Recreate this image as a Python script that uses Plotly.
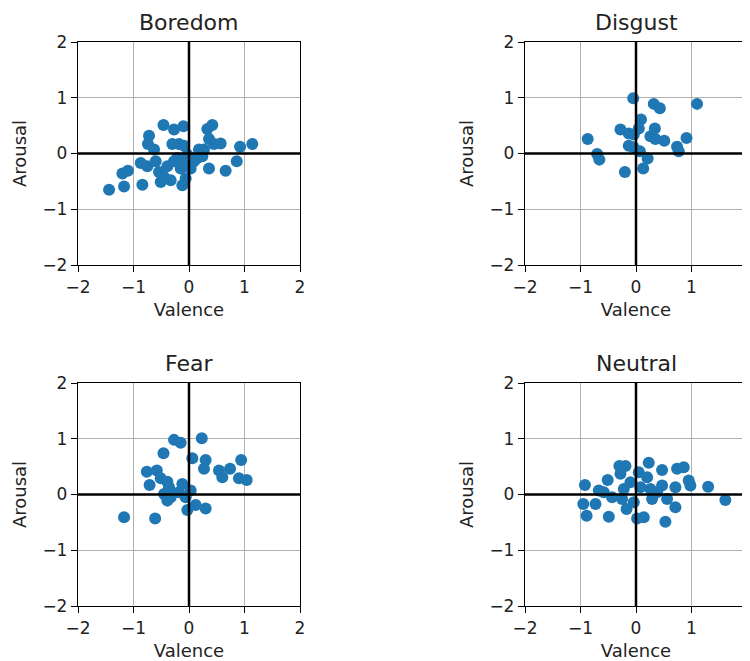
import plotly.graph_objects as go

titles = ["Boredom", "Disgust", "Fear", "Neutral"]

boredom_x = [-1.44, -1.17, -1.20, -1.10, -0.84, -0.87, -0.72, -0.74, -0.63, -0.46, -0.27, -0.10, -0.30, -0.18, -0.09,
             -0.51, -0.33, -0.12, -0.06, -0.54, -0.39, -0.27, -0.15, -0.21, -0.09, 0.03, 0.09, 0.18, 0.27, 0.33,
             0.42, 0.36, 0.45, 0.57, 0.36, 0.66, 0.86, 0.92, 1.14, -0.75, -0.60, 0.15, 0.24, -0.03, -0.45]
boredom_y = [-0.65, -0.59, -0.36, -0.31, -0.56, -0.17, 0.32, 0.17, 0.07, 0.51, 0.43, 0.49, 0.17, 0.17, 0.14,
             -0.51, -0.48, -0.57, -0.45, -0.33, -0.23, -0.14, -0.27, -0.08, -0.11, -0.27, -0.14, 0.07, 0.07, 0.44,
             0.51, 0.26, 0.17, 0.18, -0.27, -0.31, -0.14, 0.12, 0.17, -0.23, -0.14, -0.08, -0.05, -0.02, -0.42]

disgust_x = [-0.05, 0.32, 0.43, 1.10, 0.09, 0.05, -0.28, -0.13, -0.04, 0.34, 0.26, 0.35, 0.51, 0.91, 0.74,
             0.77, -0.87, -0.70, -0.66, -0.13, -0.04, 0.07, 0.21, 0.13, -0.20]
disgust_y = [0.99, 0.89, 0.81, 0.89, 0.61, 0.45, 0.43, 0.36, 0.34, 0.45, 0.31, 0.26, 0.23, 0.28, 0.12,
             0.04, 0.26, -0.01, -0.11, 0.14, 0.11, 0.04, -0.09, -0.27, -0.33]

fear_x = [-0.27, -0.15, 0.23, -0.46, 0.06, 0.30, 0.27, 0.94, 0.54, 0.74, 0.60, 0.90, 1.04, -0.76, -0.58, -0.71,
          -0.51, -0.39, -0.36, -0.12, 0.03, -0.45, -0.33, -0.18, -0.06, -0.39, -0.03, 0.12, 0.30, -1.17, -0.61]
fear_y = [0.98, 0.93, 1.01, 0.74, 0.65, 0.62, 0.46, 0.62, 0.43, 0.46, 0.31, 0.29, 0.26, 0.41, 0.43, 0.17,
          0.29, 0.23, 0.13, 0.19, 0.07, 0.01, -0.05, 0.04, -0.05, -0.11, -0.28, -0.19, -0.25, -0.41, -0.43]

neutral_x = [-0.92, -0.95, -0.89, -0.67, -0.73, -0.51, -0.49, -0.30, -0.19, -0.28, -0.10, -0.17, 0.05, 0.23, 0.20,
             0.47, 0.74, 0.86, 0.95, 0.98, 1.30, 1.61, 0.47, 0.71, 0.56, 0.71, 0.53, 0.02, 0.14, -0.43, -0.25,
             0.08, 0.26, 0.29, -0.58, -0.04, 0.38, -0.22]
neutral_y = [0.17, -0.17, -0.38, 0.07, -0.17, 0.26, -0.40, 0.51, 0.51, 0.37, 0.22, -0.26, 0.40, 0.57, 0.31,
             0.44, 0.46, 0.49, 0.25, 0.16, 0.14, -0.10, 0.16, 0.13, -0.08, -0.23, -0.49, -0.43, -0.41, -0.05, -0.08,
             0.13, 0.10, -0.08, 0.04, -0.14, 0.04, 0.10]

tick_vals = [-2, -1, 0, 1, 2]
tick_text = ["−2", "−1", "0", "1", "2"]
axis_range = [-2, 2]

data = [(boredom_x, boredom_y), (disgust_x, disgust_y), (fear_x, fear_y), (neutral_x, neutral_y)]

# page body has an 8px margin; the figure is a little wider than the visible window,
# so the last tick label on the right is clipped like in the reference
OFF = 8
W, H = 750, 661 - OFF
xdoms = [[(78 - OFF) / W, (300 - OFF) / W], [(525 - OFF) / W, (747 - OFF) / W]]
ydoms = [[1 - (265 - OFF) / H, 1 - (42 - OFF) / H], [1 - (606 - OFF) / H, 1 - (383 - OFF) / H]]

fig = go.Figure()
FONT = "DejaVu Sans"
annotations = []
shapes = []
for i, (xs, ys) in enumerate(data):
    r, c = divmod(i, 2)
    n = "" if i == 0 else str(i + 1)
    fig.add_trace(go.Scatter(x=xs, y=ys, mode="markers", xaxis="x" + n, yaxis="y" + n,
                             marker=dict(color="#1f77b4", size=12, line=dict(width=0)),
                             showlegend=False))
    common = dict(range=axis_range, tickvals=tick_vals, ticktext=tick_text, showgrid=True,
                  gridcolor="#b0b0b0", gridwidth=1.3, zeroline=False, showline=True, mirror=True,
                  linecolor="black", linewidth=1.3, ticks="outside", ticklen=6, tickcolor="black",
                  tickwidth=1.3, automargin=False,
                  tickfont=dict(family=FONT, size=17, color="#222222"), fixedrange=True)
    fig.update_layout(**{
        "xaxis" + n: dict(domain=xdoms[c], anchor="y" + n,
                          title=dict(text="Valence", font=dict(family=FONT, size=18, color="#222222"), standoff=7),
                          **common),
        "yaxis" + n: dict(domain=ydoms[r], anchor="x" + n,
                          title=dict(text="Arousal", font=dict(family=FONT, size=18, color="#222222"), standoff=11),
                          **common),
    })
    xr = "x" + n
    yr = "y" + n
    shapes.append(dict(type="line", xref=xr, yref=yr + " domain", x0=0, x1=0, y0=0, y1=1,
                       line=dict(color="black", width=2.5), layer="above"))
    shapes.append(dict(type="line", xref=xr + " domain", yref=yr, x0=0, x1=1, y0=0, y1=0,
                       line=dict(color="black", width=2.5), layer="above"))
    annotations.append(dict(text=titles[i], xref=xr + " domain", yref=yr + " domain", x=0.5, y=1.0,
                            yshift=5, xanchor="center", yanchor="bottom", showarrow=False,
                            font=dict(family=FONT, size=22, color="#222222")))

fig.update_layout(width=W, height=H, margin=dict(l=0, r=0, t=0, b=0),
                  plot_bgcolor="white", paper_bgcolor="white",
                  annotations=annotations, shapes=shapes)

fig.write_html("out.html")
